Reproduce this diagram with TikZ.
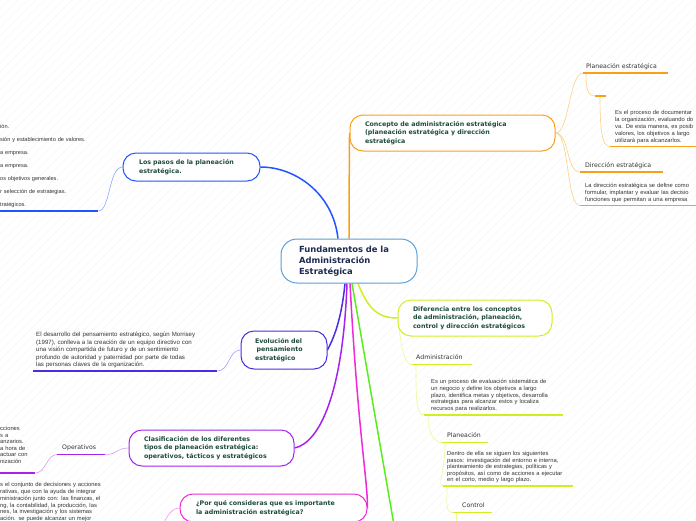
\documentclass[tikz,border=0pt]{standalone}
\usepackage{fontspec}
\setmainfont{DejaVu Sans}
\newfontfamily\parfont{Liberation Sans}
\usepackage{tikz}
\usetikzlibrary{positioning, backgrounds}

\definecolor{centerblue}{HTML}{5AA0D8}
\definecolor{navy}{HTML}{1C2B4F}
\definecolor{titlegreen}{HTML}{1E4B3B}
\definecolor{textgray}{HTML}{333333}
\definecolor{orangeA}{HTML}{F9A01B}
\definecolor{orangeL}{HTML}{FCCF86}
\definecolor{blueA}{HTML}{2255FF}
\definecolor{blueL}{HTML}{8FA8FF}
\definecolor{indigoA}{HTML}{4A2DE0}
\definecolor{indigoL}{HTML}{A898F0}
\definecolor{purpleA}{HTML}{A424EE}
\definecolor{purpleL}{HTML}{D59AF5}
\definecolor{magentaA}{HTML}{EE2AD8}
\definecolor{magentaL}{HTML}{F59AE9}
\definecolor{greenA}{HTML}{5AEE1E}
\definecolor{limeA}{HTML}{D2EE22}
\definecolor{limeL}{HTML}{EEF59A}

\tikzset{
  topic/.style={draw, line width=1pt, fill=white, rounded corners=13pt, align=left,
    text=titlegreen, inner ysep=0pt, font=\bfseries\fontsize{6.3}{8.5}\selectfont},
  leaf/.style={anchor=south west, align=left, text=textgray, inner ysep=3pt,
    text depth=1.5pt, font=\fontsize{6.2}{7.5}\selectfont},
  para/.style={anchor=south west, align=left, text=textgray, inner ysep=3pt,
    font=\parfont\fontsize{5.8}{6.8}\selectfont},
  mainline/.style={line width=1.5pt},
  thinline/.style={line width=0.6pt},
  uline/.style={line width=1.5pt},
  stripe/.style={gray!7, line width=0.5pt}
}

\begin{document}
\begin{tikzpicture}[x=1pt, y=-1pt]
    \useasboundingbox (0,0) rectangle (696,520);
    \clip (0,0) rectangle (696,520);

    % main topics
    \node[topic, draw=centerblue, text=navy, font=\bfseries\fontsize{8.4}{11}\selectfont,
          text width=100pt, inner xsep=18pt, minimum height=44pt, rounded corners=16pt]
          (centro) at (349,261) {Fundamentos de la\\Administración\\Estratégica};
    \node[topic, draw=orangeA, text width=175pt, inner xsep=15pt, minimum height=36pt]
          (concepto) at (452.5,133) {Concepto de administración estratégica\\(planeación estratégica y dirección\\estratégica};
    \node[topic, draw=blueA, text width=105pt, inner xsep=16pt, minimum height=28pt]
          (pasos) at (191.5,167) {Los pasos de la planeación\\estratégica.};
    \node[topic, draw=indigoA, text width=58pt, inner xsep=14pt, minimum height=38pt]
          (evolucion) at (284,350) {Evolución del\\\hspace*{1.5pt}pensamiento\\estratégico};
    \node[topic, draw=purpleA, text width=135pt, inner xsep=15pt, minimum height=36pt]
          (clasif) at (211.5,448) {Clasificación de los diferentes\\tipos de planeación estratégica:\\operativos, tácticos y estratégicos};
    \node[topic, draw=magentaA, text width=155pt, inner xsep=16pt, minimum height=28pt]
          (porque) at (273.5,508) {¿Por qué consideras que es importante\\la administración estratégica?};
    \node[topic, draw=limeA, text width=124pt, inner xsep=15pt, minimum height=36pt]
          (diferencia) at (475,318) {Diferencia entre los conceptos\\de administración, planeación,\\control y dirección estratégicos};

    % orange branch
    \node[leaf, text width=79pt, inner xsep=3pt] (pe) at (583,73) {Planeación estratégica};
    \node[leaf, minimum width=11pt, inner sep=0pt, text depth=0pt] (pe2) at (595,96) {};
    \node[para, text width=140pt, inner xsep=5pt] (pe3) at (610,146.5)
          {Es el proceso de documentar\\la organización, evaluando do\\va. De esta manera, es posib\\valores, los objetivos a largo\\utilizará para alcanzarlos.};
    \node[leaf, text width=73pt, inner xsep=5pt] (de) at (580,172) {Dirección estratégica};
    \node[para, text width=140pt, inner xsep=5pt] (de2) at (580,205.5)
          {La dirección estratégica se define como\\formular, implantar y evaluar las decisio\\funciones que permitan a una empresa};

    % blue branch
    \node[para, text width=98pt, inner xsep=0pt, font=\parfont\fontsize{5.6}{13}\selectfont]
          (steps) at (0,211) {ión.\\sión y establecimiento de valores.\\a empresa.\\a empresa.\\os objetivos generales.\\r selección de estrategias.\\tratégicos.};

    % indigo branch
    \node[para, text width=178pt, inner xsep=3pt, font=\parfont\fontsize{6.1}{7.4}\selectfont]
          (evtext) at (33,371) {El desarrollo del pensamiento estratégico, según Morrisey\\(1997), conlleva a la creación de un equipo directivo con\\una visión compartida de futuro y de un sentimiento\\profundo de autoridad y paternidad por parte de todas\\las personas claves de la organización.};

    % purple branch
    \node[leaf, text width=38pt, inner xsep=5pt] (ope) at (57,454.5) {Operativos};
    \node[para, text width=35pt, inner xsep=0pt, inner ysep=9.5pt, font=\parfont\fontsize{5.8}{6.5}\selectfont]
          (optext) at (0,473) {cciones\\s a\\anzarios.\\a hora de\\actuar con\\nización};
    \node[para, anchor=north west, text width=120pt, inner xsep=0pt, inner ysep=0pt, font=\parfont\fontsize{5.8}{6.7}\selectfont]
          (tactext) at (0,482.5) {s el conjunto de decisiones y acciones\\rativas, que con la ayuda de integrar\\ministración junto con: las finanzas, el\\ng, la contabilidad, la producción, las\\nes, la investigación y los sistemas\\ación. se puede alcanzar un mejor};

    % lime branch
    \node[leaf, text width=52pt, inner xsep=4pt] (adm) at (412,364.5) {Administración};
    \node[para, text width=125pt, inner xsep=7pt] (admtext) at (424,415)
          {Es un proceso de evaluación sistemática de\\un negocio y define los objetivos a largo\\plazo, identifica metas y objetivos, desarrolla\\estrategias para alcanzar estos y localiza\\recursos para realizarlos.};
    \node[leaf, text width=36pt, inner xsep=5pt] (plan) at (442,442.5) {Planeación};
    \node[para, text width=122pt, inner xsep=4pt, font=\parfont\fontsize{5.8}{6.5}\selectfont] (plantext) at (443,486)
          {Dentro de ella se siguen los siguientes\\pasos: investigación del entorno e interna,\\planteamiento de estrategias, políticas y\\propósitos, así como de acciones a ejecutar\\en el corto, medio y largo plazo.};
    \node[leaf, text width=21pt, inner xsep=9pt] (ctrl) at (453,512.5) {Control};

    \coordinate (verde) at (398,548);
    \coordinate (pqfin) at (158,530);
    \coordinate (limefin) at (456,528);

    % underlines
    \draw[uline, orangeA] (pe.south west) -- (pe.south east);
    \draw[uline, orangeA] (pe2.south west) -- (pe2.south east);
    \draw[uline, orangeA] (pe3.south west) -- (pe3.south east);
    \draw[uline, orangeA] (de.south west) -- (de.south east);
    \draw[uline, orangeA] (de2.south west) -- (de2.south east);
    \draw[uline, blueA] (steps.south west) -- (steps.south east);
    \draw[uline, indigoA] (evtext.south west) -- (evtext.south east);
    \draw[uline, purpleA] (ope.south west) -- (ope.south east);
    \draw[uline, purpleA] (optext.south west) -- (optext.south east);
    \draw[uline, limeA] (adm.south west) -- (adm.south east);
    \draw[uline, limeA] (admtext.south west) -- (admtext.south east);
    \draw[uline, limeA] (plan.south west) -- (plan.south east);
    \draw[uline, limeA] (plantext.south west) -- (plantext.south east);
    \draw[uline, limeA] (ctrl.south west) -- (ctrl.south east);

    \begin{pgfonlayer}{background}
        \foreach \k in {0,9,...,1224}
            \draw[stripe] (\k-520,520) -- (\k,0);

        % branches from the centre
        \draw[mainline, orangeA] (centro.north) .. controls +(0,-60) and +(0,30) .. (concepto.west);
        \draw[mainline, blueA] ([xshift=-11pt]centro.north) .. controls +(-5,-45) and +(35,0) .. (pasos.east);
        \draw[mainline, indigoA] ([xshift=-4pt]centro.south) .. controls +(-4,40) and +(5,-10) .. (evolucion.east);
        \draw[mainline, purpleA] ([xshift=-2pt]centro.south) .. controls +(-4,110) and +(25,-5) .. (clasif.east);
        \draw[mainline, magentaA] ([xshift=1pt]centro.south) .. controls +(8,150) and +(0,-30) .. (porque.east);
        \draw[mainline, greenA] ([xshift=3pt]centro.south) -- (verde);
        \draw[mainline, limeA] ([xshift=9pt]centro.south) .. controls +(10,25) and +(-20,0) .. (diferencia.west);

        % sub branches
        \draw[thinline, orangeL] (concepto.east) .. controls +(14,0) and +(-14,0) .. (pe.south west);
        \draw[thinline, orangeL] (concepto.east) .. controls +(14,0) and +(-14,0) .. (de.south west);
        \draw[thinline, orangeL] (concepto.east) .. controls +(14,0) and +(-14,0) .. (de2.south west);
        \draw[thinline, orangeL] ([xshift=3pt]pe.south west) .. controls +(0,14) and +(-8,0) .. (pe2.south west);
        \draw[thinline, orangeL] ([xshift=5pt]pe2.south west) .. controls +(0,35) and +(-8,0) .. (pe3.south west);
        \draw[thinline, blueL] (pasos.west) .. controls +(-14,0) and +(12,0) .. (steps.south east);
        \draw[thinline, indigoL] (evolucion.west) .. controls +(-12,0) and +(12,0) .. (evtext.south east);
        \draw[thinline, purpleL] (clasif.west) .. controls +(-12,0) and +(12,0) .. (ope.south east);
        \draw[thinline, purpleL] (ope.south west) .. controls +(-10,0) and +(10,0) .. (optext.south east);
        \draw[thinline, magentaL] (porque.west) .. controls +(-12,0) and +(8,-6) .. (pqfin);
        \draw[thinline, limeL] (diferencia.west) .. controls +(4,30) and +(-8,0) .. (adm.south west);
        \draw[thinline, limeL] ([xshift=4pt]adm.south west) .. controls +(0,35) and +(-8,0) .. (admtext.south west);
        \draw[thinline, limeL] ([xshift=4pt]admtext.south west) .. controls +(0,18) and +(-8,0) .. (plan.south west);
        \draw[thinline, limeL] ([xshift=3pt]plan.south west) .. controls +(0,30) and +(-6,0) .. (plantext.south west);
        \draw[thinline, limeL] ([xshift=4pt]plantext.south west) .. controls +(0,18) and +(-8,0) .. (ctrl.south west);
        \draw[thinline, limeL] ([xshift=3pt]ctrl.south west) -- (limefin);
    \end{pgfonlayer}
\end{tikzpicture}
\end{document}
